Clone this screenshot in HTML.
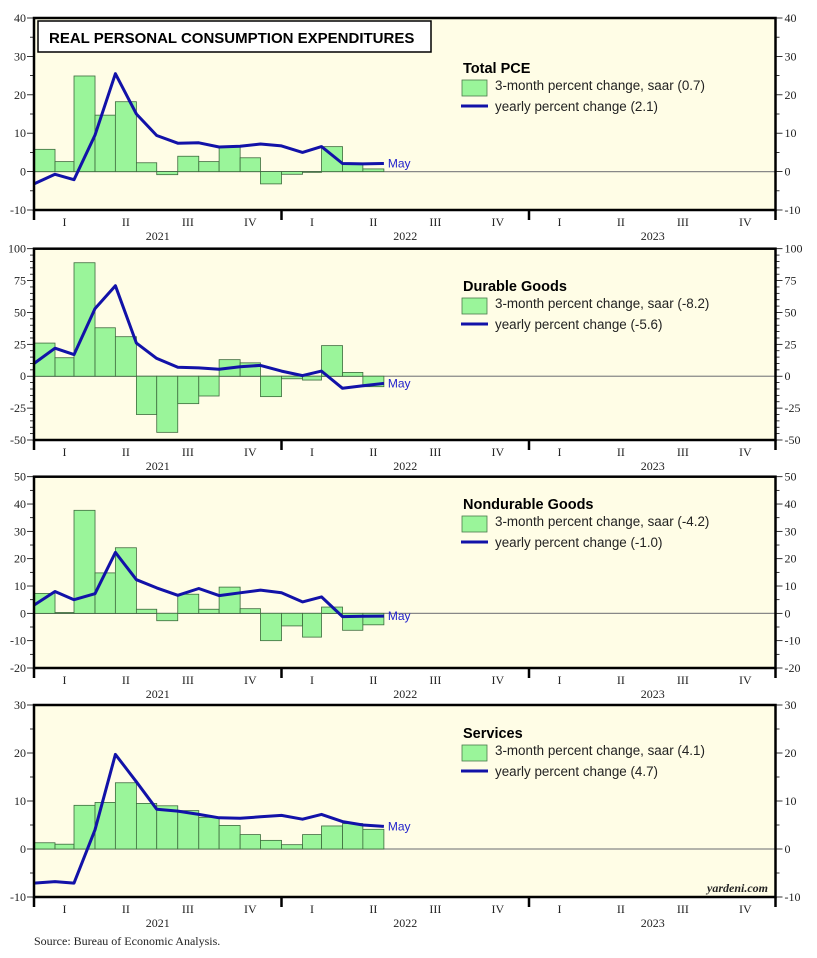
<!DOCTYPE html>
<html><head><meta charset="utf-8">
<style>
html,body{margin:0;padding:0;background:#fff;}
svg{display:block;}
</style></head>
<body>
<svg id="chart" width="817" height="958" xmlns="http://www.w3.org/2000/svg"></svg>
<script>
// Months: bars Jan 2021..May 2022; line points Dec 2020..May 2022 (plotted at month end)
const barMonths = ["2021-01","2021-02","2021-03","2021-04","2021-05","2021-06","2021-07","2021-08","2021-09","2021-10","2021-11","2021-12","2022-01","2022-02","2022-03","2022-04","2022-05"];
const lineMonths = ["2020-12","2021-01","2021-02","2021-03","2021-04","2021-05","2021-06","2021-07","2021-08","2021-09","2021-10","2021-11","2021-12","2022-01","2022-02","2022-03","2022-04","2022-05"];

const totalBars = [5.8,2.6,24.9,14.7,18.2,2.3,-0.8,4.0,2.6,6.6,3.6,-3.2,-0.7,-0.2,6.5,2.1,0.7];
const totalLine = [-3.2,-0.7,-2.1,9.5,25.5,15.0,9.4,7.4,7.5,6.4,6.6,7.2,6.7,5.0,6.5,2.1,2.0,2.1];
const durBars = [26,14.5,89,38,31,-30,-44,-21.5,-15.5,13,10.5,-16,-2,-3,24,3,-8.2];
const durLine = [10,22,17,53,71,26,14,7,6.5,5.5,7.5,8.5,4,0.5,4,-9.5,-7.5,-5.6];
const nondurBars = [7.3,0.3,37.7,14.8,24,1.5,-2.7,7,1.5,9.6,1.7,-10,-4.6,-8.7,2.3,-6.2,-4.2];
const nondurLine = [3,8,5,7.2,22.3,12.3,9.3,6.6,9.1,6.5,7.5,8.5,7.5,4.2,6,-1.2,-1.1,-1.0];
const servBars = [1.3,1.0,9.1,9.7,13.8,9.5,9.0,8.0,6.6,4.9,3.0,1.8,0.9,3.0,4.8,5.3,4.1];
const servLine = [-7.1,-6.8,-7.1,4,19.7,14,8.3,7.9,7.2,6.5,6.4,6.7,7.0,6.2,7.2,5.7,5.0,4.7];

const panels = [
 {name:"total-pce", title:"Total PCE", bars:totalBars, line:totalLine, barLbl:"3-month percent change, saar (0.7)", lineLbl:"yearly percent change (2.1)", min:-10, max:40, major:[-10,0,10,20,30,40], top:18, bot:210, legY:68},
 {name:"durable-goods", title:"Durable Goods", bars:durBars, line:durLine, barLbl:"3-month percent change, saar (-8.2)", lineLbl:"yearly percent change (-5.6)", min:-50, max:100, major:[-50,-25,0,25,50,75,100], top:248.7, bot:440, legY:286},
 {name:"nondurable-goods", title:"Nondurable Goods", bars:nondurBars, line:nondurLine, barLbl:"3-month percent change, saar (-4.2)", lineLbl:"yearly percent change (-1.0)", min:-20, max:50, major:[-20,-10,0,10,20,30,40,50], top:476.7, bot:668, legY:504},
 {name:"services", title:"Services", bars:servBars, line:servLine, barLbl:"3-month percent change, saar (4.1)", lineLbl:"yearly percent change (4.7)", min:-10, max:30, major:[-10,0,10,20,30], top:705, bot:897, legY:733}
];

const NS="http://www.w3.org/2000/svg";
const svg=document.getElementById('chart');
const L=34, R=775.5;
const t0=Date.UTC(2021,0,1), DAY=86400000, PXD=247.5/365;
function xDate(y,m,d){return L+((Date.UTC(y,m,d)-t0)/DAY)*PXD;}
function monthStart(s){const [y,m]=s.split('-').map(Number);return xDate(y,m-1,1);}
function monthEnd(s){const [y,m]=s.split('-').map(Number);return xDate(y,m,1);}
function mk(tag,attrs,parent){const e=document.createElementNS(NS,tag);for(const k in attrs)e.setAttribute(k,attrs[k]);(parent||svg).appendChild(e);return e;}

panels.forEach((p,pi)=>{
  const g=mk('g',{});
  
  
  const yS=v=>p.bot-(v-p.min)/(p.max-p.min)*(p.bot-p.top);
  const bg=mk('rect',{x:L,y:p.top,width:R-L,height:p.bot-p.top,fill:'#fffde6'},g);
  
  
  const z=mk('line',{x1:L,x2:R,y1:yS(0),y2:yS(0),stroke:'#888',"stroke-width":1.2},g);
  
  
  p.bars.forEach((v,i)=>{
    const x0=monthStart(barMonths[i]), x1=monthEnd(barMonths[i]);
    const ya=yS(Math.max(v,0)), yb=yS(Math.min(v,0));
    const b=mk('rect',{x:x0,y:ya,width:x1-x0,height:Math.max(yb-ya,0.5),fill:'#9af59a',stroke:'#3d6b3d',"stroke-width":0.8},g);
    
    
  });
  const pts=p.line.map((v,i)=>monthEnd(lineMonths[i]).toFixed(1)+','+yS(v).toFixed(1)).join(' ');
  const pl=mk('polyline',{points:pts,fill:'none',stroke:'#1212a8',"stroke-width":3,"stroke-linejoin":"round"},g);
  
  
  const lastX=monthEnd(lineMonths[lineMonths.length-1]), lastY=yS(p.line[p.line.length-1]);
  const may=mk('text',{x:lastX+4,y:lastY+4,fill:'#2222cc',"font-family":"Liberation Sans, sans-serif","font-size":12},g);
  may.textContent='May';
  
  
  const fr=mk('rect',{x:L,y:p.top,width:R-L,height:p.bot-p.top,fill:'none',stroke:'#000',"stroke-width":2.5},g);
  
  
  const step=5;
  for(let v=p.min; v<=p.max; v+=step){
    const y=yS(v); const isMaj=p.major.includes(v);
    mk('line',{x1:L-(isMaj?7:4),x2:L,y1:y,y2:y,stroke:'#000',"stroke-width":0.8},g);
    mk('line',{x1:R,x2:R+(isMaj?7:4),y1:y,y2:y,stroke:'#000',"stroke-width":0.8},g);
  }
  p.major.forEach(v=>{
    const y=yS(v);
    const tl=mk('text',{x:L-8,y:y+4,"text-anchor":"end","font-family":"Liberation Serif, serif","font-size":12,fill:'#222'},g);
    tl.textContent=String(v);
    
    
    const tr=mk('text',{x:R+9,y:y+4,"font-family":"Liberation Serif, serif","font-size":12,fill:'#222'},g);
    tr.textContent=String(v);
    
    
  });
  const roman=['I','II','III','IV'];
  [2021,2022,2023].forEach(yr=>{
    for(let q=0;q<4;q++){
      const xa=xDate(yr,q*3,1), xb=xDate(yr,q*3+3,1);
      const t=mk('text',{x:(xa+xb)/2,y:p.bot+16,"text-anchor":"middle","font-family":"Liberation Serif, serif","font-size":12,fill:'#222'},g);
      t.textContent=roman[q];
      
      
    }
    const xa=xDate(yr,0,1), xb=xDate(yr+1,0,1);
    const yl=mk('text',{x:(xa+xb)/2,y:p.bot+30,"text-anchor":"middle","font-family":"Liberation Serif, serif","font-size":12,fill:'#222'},g);
    yl.textContent=String(yr);
    
    
    mk('line',{x1:xa,x2:xa,y1:p.bot,y2:p.bot+10,stroke:'#000',"stroke-width":2.5},g);
  });
  mk('line',{x1:R,x2:R,y1:p.bot,y2:p.bot+10,stroke:'#000',"stroke-width":2.5},g);
  const lt=mk('text',{x:463,y:p.legY+5,"font-family":"Liberation Sans, sans-serif","font-size":14.5,"font-weight":"bold",fill:'#000'},g);
  lt.textContent=p.title;
  
  
  const lb=mk('rect',{x:462,y:p.legY+12,width:25,height:16,fill:'#9af59a',stroke:'#4a7a4a',"stroke-width":0.8},g);
  
  
  const lbt=mk('text',{x:495,y:p.legY+22,"font-family":"Liberation Sans, sans-serif","font-size":13.4,fill:'#222'},g);
  lbt.textContent=p.barLbl;
  
  
  const ll=mk('line',{x1:461,x2:488,y1:p.legY+38,y2:p.legY+38,stroke:'#1212a8',"stroke-width":3},g);
  
  
  const llt=mk('text',{x:495,y:p.legY+43,"font-family":"Liberation Sans, sans-serif","font-size":13.4,fill:'#222'},g);
  llt.textContent=p.lineLbl;
  
  
});

const tb=mk('rect',{x:38,y:21,width:393,height:31,fill:'#fff',stroke:'#000',"stroke-width":1.5});


const tt=mk('text',{x:49,y:43,"font-family":"Liberation Sans, sans-serif","font-size":15,"font-weight":"bold",fill:'#000'});
tt.textContent='REAL PERSONAL CONSUMPTION EXPENDITURES';


const yd=mk('text',{x:768,y:892,"text-anchor":"end","font-family":"Liberation Serif, serif","font-size":12,"font-style":"italic","font-weight":"bold",fill:'#222'});
yd.textContent='yardeni.com';


const src=mk('text',{x:34,y:945,"font-family":"Liberation Serif, serif","font-size":12,fill:'#222'});
src.textContent='Source: Bureau of Economic Analysis.';


</script>
</body></html>
